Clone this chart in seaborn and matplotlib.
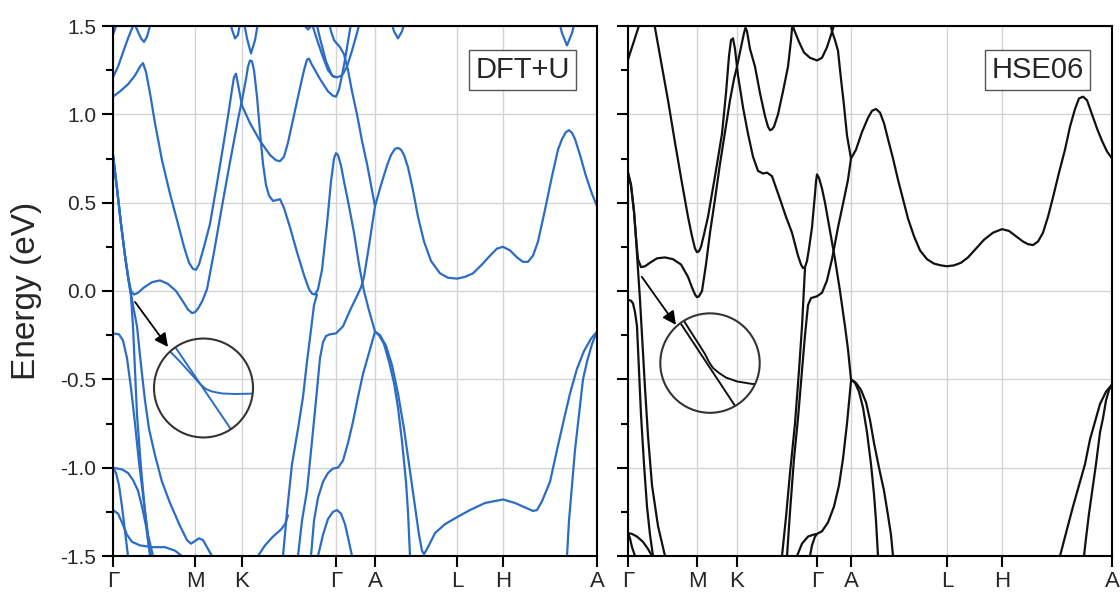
import numpy as np
import pandas as pd
import matplotlib
matplotlib.use("Agg")
import matplotlib.pyplot as plt
from matplotlib.patches import Ellipse
import seaborn as sns

# ---- k-path (arbitrary k units, Γ at 0) ----
klabels = ["Γ", "M", "K", "Γ", "A", "L", "H", "A"]
dft_kpath = [0.00, 0.82, 1.29, 2.23, 2.62, 3.44, 3.90, 4.84]
hse_kpath = [0.00, 0.69, 1.09, 1.89, 2.23, 3.19, 3.74, 4.84]

# ---- DFT+U bands, (k, E) ----
dft_upper = [
    [(0.00,1.10),(0.07,1.13),(0.15,1.17),(0.22,1.22),(0.27,1.27),(0.30,1.29),(0.33,1.24),(0.37,1.12),(0.42,0.95),(0.49,0.74),(0.57,0.55),(0.65,0.38),(0.71,0.25),(0.76,0.16),(0.80,0.125),(0.83,0.12),(0.86,0.15),(0.91,0.25),(0.97,0.38),(1.04,0.61),(1.09,0.78),(1.15,0.99),(1.19,1.14),(1.21,1.21),(1.23,1.23),(1.25,1.17),(1.29,1.05),(1.37,0.95),(1.47,0.85),(1.57,0.77),(1.63,0.74),(1.67,0.735),(1.71,0.76),(1.75,0.84),(1.80,0.97),(1.87,1.15),(1.91,1.25),(1.94,1.31),(1.96,1.315),(1.99,1.28),(2.07,1.20),(2.15,1.13),(2.20,1.105),(2.23,1.10),(2.26,1.14),(2.29,1.22),(2.32,1.31),(2.37,1.48),(2.39,1.55)],
    [(0.00,0.77),(0.04,0.58),(0.08,0.38),(0.12,0.20),(0.15,0.08),(0.18,0.00),(0.21,-0.02),(0.25,-0.01),(0.31,0.02),(0.39,0.05),(0.47,0.06),(0.55,0.04),(0.63,0.00),(0.70,-0.06),(0.75,-0.105),(0.79,-0.125),(0.82,-0.12),(0.85,-0.10),(0.89,-0.06),(0.94,0.01),(1.01,0.22),(1.09,0.48),(1.17,0.73),(1.25,0.97),(1.29,1.08),(1.33,1.20),(1.35,1.27),(1.37,1.305),(1.39,1.30),(1.41,1.25),(1.44,1.10),(1.47,0.90),(1.50,0.72),(1.53,0.60),(1.56,0.54),(1.60,0.51),(1.64,0.515),(1.67,0.52),(1.71,0.47),(1.77,0.36),(1.84,0.22),(1.91,0.09),(1.96,0.01),(1.99,-0.015),(2.02,-0.02),(2.05,0.01),(2.09,0.12),(2.14,0.38),(2.18,0.62),(2.21,0.75),(2.23,0.78),(2.25,0.77),(2.28,0.71),(2.31,0.62),(2.36,0.48),(2.41,0.33),(2.46,0.15),(2.51,0.00),(2.56,-0.11),(2.62,-0.23)],
    [(0.00,1.21),(0.05,1.27),(0.10,1.35),(0.15,1.43),(0.20,1.50),(0.23,1.55)],
    [(0.00,1.45),(0.03,1.50),(0.06,1.55)],
    [(0.19,1.55),(0.24,1.48),(0.28,1.43),(0.31,1.41),(0.34,1.44),(0.37,1.50),(0.39,1.55)],
    [(1.16,1.55),(1.19,1.48),(1.22,1.43),(1.25,1.45),(1.28,1.55)],
    [(1.30,1.55),(1.34,1.43),(1.38,1.345),(1.42,1.42),(1.46,1.55)],
    [(1.89,1.55),(1.92,1.50),(1.95,1.48),(1.98,1.50),(2.01,1.55)],
    [(1.97,1.55),(2.03,1.44),(2.09,1.34),(2.15,1.25),(2.20,1.215),(2.24,1.21),(2.29,1.22),(2.34,1.27),(2.39,1.36),(2.44,1.46),(2.48,1.55)],
    [(2.02,1.55),(2.07,1.43),(2.13,1.30),(2.19,1.22),(2.23,1.21)],
    [(2.15,1.55),(2.18,1.47),(2.21,1.42),(2.27,1.38),(2.31,1.34),(2.35,1.25),(2.39,1.13),(2.44,1.00),(2.49,0.85),(2.54,0.72),(2.58,0.60),(2.62,0.48)],
    [(2.62,0.48),(2.68,0.60),(2.74,0.71),(2.78,0.77),(2.82,0.805),(2.85,0.81),(2.88,0.80),(2.91,0.77),(2.95,0.70),(3.00,0.57),(3.05,0.42),(3.11,0.28),(3.18,0.17),(3.27,0.10),(3.35,0.075),(3.44,0.07),(3.52,0.08),(3.60,0.10),(3.69,0.15),(3.77,0.20),(3.84,0.24),(3.90,0.25),(3.97,0.23),(4.04,0.19),(4.10,0.165),(4.15,0.165),(4.20,0.20),(4.25,0.28),(4.32,0.46),(4.39,0.65),(4.45,0.80),(4.49,0.86),(4.53,0.90),(4.56,0.91),(4.59,0.895),(4.62,0.86),(4.67,0.77),(4.73,0.65),(4.79,0.55),(4.84,0.48)],
    [(2.77,1.55),(2.81,1.47),(2.85,1.43),(2.89,1.47),(2.93,1.55)],
    [(4.45,1.55),(4.49,1.46),(4.54,1.39),(4.59,1.46),(4.63,1.55)],
]
dft_lower = [
    [(0.00,0.77),(0.04,0.58),(0.08,0.38),(0.12,0.20),(0.15,0.08),(0.18,-0.03),(0.20,-0.20),(0.22,-0.45),(0.24,-0.70),(0.28,-1.00),(0.32,-1.25),(0.37,-1.50)],
    [(0.00,-0.24),(0.06,-0.245),(0.10,-0.28),(0.14,-0.38),(0.18,-0.55),(0.22,-0.75),(0.26,-0.97),(0.31,-1.20),(0.35,-1.38),(0.40,-1.50)],
    [(0.00,0.77),(0.04,0.58),(0.08,0.38),(0.12,0.20),(0.16,0.05),(0.20,-0.08),(0.24,-0.20),(0.28,-0.42),(0.32,-0.62),(0.36,-0.78),(0.42,-0.93),(0.49,-1.08),(0.57,-1.20),(0.67,-1.33),(0.74,-1.41),(0.78,-1.43),(0.82,-1.415),(0.86,-1.40),(0.90,-1.41),(0.94,-1.45),(0.99,-1.50)],
    [(0.00,-1.00),(0.09,-1.01),(0.15,-1.03),(0.20,-1.07),(0.25,-1.13),(0.29,-1.22),(0.33,-1.33),(0.36,-1.45),(0.38,-1.50)],
    [(0.00,-1.00),(0.03,-1.03),(0.06,-1.10),(0.09,-1.22),(0.12,-1.36),(0.15,-1.50)],
    [(0.00,-1.24),(0.05,-1.26),(0.09,-1.31),(0.14,-1.38),(0.19,-1.42),(0.27,-1.44),(0.39,-1.45),(0.52,-1.45),(0.62,-1.47),(0.69,-1.50)],
    [(1.85,-1.50),(1.89,-1.30),(1.94,-1.13),(1.99,-0.85),(2.04,-0.56),(2.07,-0.38),(2.10,-0.29),(2.13,-0.255),(2.17,-0.245),(2.23,-0.24),(2.30,-0.20),(2.37,-0.11),(2.43,-0.04),(2.48,0.02),(2.51,0.08),(2.55,0.22),(2.58,0.33),(2.62,0.48)],
    [(1.70,-1.50),(1.74,-1.25),(1.79,-0.98),(1.85,-0.78),(1.90,-0.60),(1.94,-0.40),(1.98,-0.22),(2.01,-0.08),(2.04,-0.02)],
    [(1.45,-1.50),(1.52,-1.44),(1.60,-1.39),(1.68,-1.35),(1.72,-1.32),(1.75,-1.27)],
    [(1.98,-1.50),(2.01,-1.30),(2.05,-1.17),(2.10,-1.08),(2.15,-1.03),(2.20,-1.005),(2.25,-1.00),(2.30,-0.96),(2.35,-0.86),(2.40,-0.74),(2.45,-0.60),(2.50,-0.47),(2.56,-0.35),(2.62,-0.23)],
    [(2.05,-1.50),(2.10,-1.38),(2.15,-1.29),(2.20,-1.25),(2.24,-1.24),(2.28,-1.26),(2.32,-1.32),(2.36,-1.42),(2.39,-1.50)],
    [(2.62,-0.23),(2.66,-0.25),(2.71,-0.30),(2.76,-0.40),(2.81,-0.52),(2.85,-0.66),(2.89,-0.85),(2.93,-1.08),(2.95,-1.25),(2.97,-1.50)],
    [(2.62,-0.23),(2.67,-0.25),(2.73,-0.31),(2.79,-0.42),(2.85,-0.58),(2.91,-0.78),(2.96,-0.98),(3.01,-1.18),(3.06,-1.38),(3.09,-1.47),(3.11,-1.49),(3.15,-1.45),(3.22,-1.37),(3.32,-1.32),(3.44,-1.28),(3.57,-1.24),(3.72,-1.20),(3.90,-1.18),(4.02,-1.20),(4.14,-1.23),(4.20,-1.245),(4.24,-1.24),(4.29,-1.19),(4.37,-1.08),(4.44,-0.90),(4.50,-0.75),(4.57,-0.58),(4.64,-0.44),(4.71,-0.34),(4.78,-0.27),(4.84,-0.23)],
    [(4.84,-0.23),(4.79,-0.30),(4.74,-0.40),(4.70,-0.50),(4.66,-0.70),(4.62,-0.90),(4.59,-1.10),(4.56,-1.30),(4.54,-1.50)],
]

# ---- HSE06 bands ----
hse_upper = [
    [(0.00,1.31),(0.04,1.38),(0.08,1.45),(0.12,1.52),(0.14,1.55)],
    [(0.00,0.67),(0.03,0.60),(0.06,0.45),(0.08,0.30),(0.10,0.18),(0.13,0.135),(0.17,0.14),(0.22,0.16),(0.29,0.185),(0.37,0.19),(0.45,0.18),(0.53,0.15),(0.60,0.08),(0.64,0.02),(0.67,-0.02),(0.69,-0.035),(0.71,-0.03),(0.74,0.00),(0.78,0.15),(0.82,0.33),(0.87,0.52),(0.92,0.72),(0.97,0.90),(1.02,1.08),(1.06,1.20),(1.09,1.27),(1.13,1.38),(1.16,1.46),(1.175,1.49),(1.19,1.47),(1.22,1.37),(1.27,1.27),(1.32,1.12),(1.37,0.99),(1.40,0.93),(1.42,0.91),(1.44,0.915),(1.46,0.93),(1.50,1.00),(1.55,1.13),(1.60,1.27),(1.63,1.42),(1.65,1.55)],
    [(0.25,1.55),(0.27,1.49),(0.33,1.30),(0.40,1.08),(0.47,0.84),(0.54,0.61),(0.60,0.42),(0.64,0.31),(0.67,0.24),(0.69,0.22),(0.71,0.225),(0.73,0.25),(0.76,0.32),(0.80,0.42),(0.87,0.65),(0.94,0.89),(0.98,1.12),(1.01,1.33),(1.03,1.42),(1.05,1.43),(1.07,1.37),(1.10,1.22),(1.15,1.04),(1.20,0.89),(1.25,0.76),(1.30,0.68),(1.35,0.665),(1.39,0.67),(1.44,0.65),(1.52,0.52),(1.58,0.42),(1.64,0.33),(1.70,0.20),(1.73,0.15),(1.75,0.13),(1.77,0.135),(1.79,0.17),(1.81,0.24),(1.84,0.36),(1.87,0.55),(1.88,0.62),(1.89,0.66),(1.91,0.64),(1.94,0.58),(1.97,0.50),(2.02,0.34),(2.07,0.18),(2.12,0.00),(2.17,-0.20),(2.20,-0.33),(2.23,-0.50)],
    [(1.62,1.55),(1.66,1.48),(1.71,1.41),(1.76,1.35),(1.82,1.32),(1.89,1.305),(1.94,1.32),(1.99,1.38),(2.03,1.45),(2.07,1.52),(2.09,1.55)],
    [(2.01,1.55),(2.04,1.47),(2.07,1.42),(2.10,1.36),(2.13,1.20),(2.16,1.05),(2.19,0.88),(2.23,0.75)],
    [(2.23,0.75),(2.28,0.80),(2.34,0.90),(2.40,0.98),(2.44,1.02),(2.48,1.03),(2.52,1.01),(2.56,0.95),(2.60,0.86),(2.65,0.75),(2.70,0.63),(2.75,0.52),(2.80,0.41),(2.86,0.31),(2.92,0.23),(2.99,0.18),(3.06,0.155),(3.13,0.145),(3.19,0.14),(3.26,0.145),(3.33,0.16),(3.40,0.19),(3.48,0.24),(3.56,0.29),(3.65,0.33),(3.74,0.35),(3.81,0.34),(3.88,0.31),(3.95,0.28),(4.00,0.265),(4.05,0.26),(4.10,0.28),(4.15,0.33),(4.20,0.42),(4.25,0.53),(4.31,0.67),(4.37,0.80),(4.42,0.93),(4.47,1.03),(4.51,1.09),(4.55,1.10),(4.59,1.08),(4.64,1.00),(4.69,0.92),(4.74,0.85),(4.79,0.79),(4.84,0.75)],
]
hse_lower = [
    [(0.00,0.67),(0.03,0.60),(0.06,0.45),(0.08,0.30),(0.10,0.12),(0.12,-0.05),(0.14,-0.25),(0.17,-0.55),(0.20,-0.82),(0.24,-1.10),(0.30,-1.33),(0.37,-1.50)],
    [(0.00,-0.05),(0.03,-0.055),(0.05,-0.07),(0.07,-0.12),(0.09,-0.20),(0.11,-0.45),(0.13,-0.70),(0.16,-0.98),(0.19,-1.22),(0.22,-1.38),(0.25,-1.50)],
    [(0.00,-1.37),(0.04,-1.375),(0.09,-1.39),(0.15,-1.42),(0.20,-1.46),(0.24,-1.50)],
    [(0.00,-1.37),(0.02,-1.40),(0.04,-1.45),(0.07,-1.50)],
    [(1.59,-1.50),(1.62,-1.25),(1.66,-0.95),(1.70,-0.72),(1.74,-0.45),(1.77,-0.25),(1.80,-0.08),(1.83,-0.04),(1.89,-0.03),(1.94,-0.01),(1.99,0.06),(2.04,0.18),(2.10,0.36),(2.16,0.52),(2.20,0.63),(2.23,0.75)],
    [(1.54,-1.50),(1.58,-1.28),(1.62,-1.03),(1.67,-0.75),(1.71,-0.45),(1.74,-0.20),(1.76,0.02),(1.77,0.13)],
    [(1.69,-1.50),(1.74,-1.43),(1.80,-1.39),(1.85,-1.38),(1.89,-1.375)],
    [(1.82,-1.50),(1.84,-1.44),(1.87,-1.39),(1.89,-1.375)],
    [(1.89,-1.375),(1.94,-1.36),(2.00,-1.31),(2.06,-1.22),(2.11,-1.10),(2.15,-0.95),(2.19,-0.75),(2.23,-0.51)],
    [(2.23,-0.50),(2.27,-0.52),(2.31,-0.57),(2.35,-0.66),(2.39,-0.80),(2.43,-0.98),(2.46,-1.15),(2.48,-1.30),(2.50,-1.50)],
    [(2.23,-0.50),(2.28,-0.52),(2.33,-0.56),(2.38,-0.63),(2.42,-0.73),(2.46,-0.86),(2.51,-1.00),(2.56,-1.13),(2.60,-1.27),(2.63,-1.38),(2.65,-1.50)],
    [(4.84,-0.53),(4.78,-0.57),(4.72,-0.64),(4.67,-0.74),(4.62,-0.84),(4.57,-0.98),(4.51,-1.10),(4.45,-1.22),(4.38,-1.37),(4.32,-1.50)],
    [(4.84,-0.53),(4.81,-0.56),(4.78,-0.62),(4.75,-0.72),(4.72,-0.80),(4.68,-0.98),(4.64,-1.14),(4.61,-1.26),(4.58,-1.40),(4.56,-1.50)],
]

# ---- magnified crossings (inside the circles) ----
dft_zoom = [
    [(0.47,-0.19),(1.32,-0.90)],
    [(0.47,-0.283),(0.55,-0.33),(0.67,-0.40),(0.79,-0.475),(0.87,-0.526),(0.93,-0.555),(0.99,-0.569),(1.09,-0.58),(1.22,-0.583),(1.47,-0.58)],
]
hse_zoom = [
    [(0.372,-0.051),(1.203,-0.764)],
    [(0.43,-0.05),(0.53,-0.142),(0.61,-0.215),(0.70,-0.294),(0.77,-0.357),(0.81,-0.402),(0.85,-0.436),(0.91,-0.464),(0.98,-0.49),(1.09,-0.512),(1.24,-0.526),(1.47,-0.532)],
]
# circle centre / size (k, E), arrow tail -> head
dft_circle = ((0.905, -0.549), 0.99, 0.56)
hse_circle = ((0.82, -0.408), 0.994, 0.563)
dft_arrow = ((0.22, -0.062), (0.55, -0.317))
hse_arrow = ((0.137, 0.081), (0.48, -0.192))

BLUE = "#2b6cc4"
BLACK = "#111111"

sns.set_theme(style="ticks")
plt.rcParams["font.family"] = ["Liberation Sans", "DejaVu Sans"]
plt.rcParams["axes.unicode_minus"] = False
plt.rcParams["lines.solid_joinstyle"] = "round"


def to_frame(bands):
    rows = []
    for i, b in enumerate(bands):
        for k, e in b:
            rows.append((i, k, e))
    return pd.DataFrame(rows, columns=["band", "k", "E"])


def draw_panel(ax, bands, kpath, color, label, zoom, circle, arrow, show_y):
    df = to_frame(bands)
    sns.lineplot(data=df, x="k", y="E", units="band", estimator=None,
                 sort=False, color=color, lw=1.6, ax=ax, legend=False)

    ax.set_xlim(kpath[0], kpath[-1])
    ax.set_ylim(-1.5, 1.5)
    ax.set_xticks(kpath)
    ax.set_xticklabels(klabels)
    ax.set_yticks(np.arange(-1.5, 1.51, 0.5))
    ax.set_yticks(np.arange(-1.5, 1.51, 0.25), minor=True)
    ax.grid(True, which="major", color="#d4d4d4", lw=1.0)
    ax.set_axisbelow(True)
    ax.set_xlabel("")
    ax.set_ylabel("")
    for s in ax.spines.values():
        s.set_visible(True)
        s.set_color("black")
        s.set_linewidth(1.5)
    ax.tick_params(axis="both", which="major", direction="out", length=8,
                   width=1.5, color="black")
    ax.tick_params(axis="y", which="minor", direction="out", length=5,
                   width=1.5, color="black")
    ax.tick_params(axis="x", labelsize=16, pad=3)
    ax.tick_params(axis="y", labelsize=15, pad=4, labelleft=show_y)

    # magnified view of the band crossing
    (cx, cy), w, h = circle
    ell = Ellipse((cx, cy), w, h, fill=False, ec="#333333", lw=1.5, zorder=5)
    ax.add_patch(ell)
    for seg in zoom:
        ks, es = zip(*seg)
        ln, = ax.plot(ks, es, color=color, lw=1.4, zorder=4)
        ln.set_clip_path(ell)
    ax.annotate("", xy=arrow[1], xytext=arrow[0],
                arrowprops=dict(arrowstyle="-|>", color="black", lw=1.3,
                                mutation_scale=20, shrinkA=0, shrinkB=0))

    ax.text(0.846, 0.917, label, transform=ax.transAxes, fontsize=21,
            ha="center", va="center", zorder=6,
            bbox=dict(boxstyle="square,pad=0.22", fc="white", ec="#555555", lw=1.0))


fig = plt.figure(figsize=(11.2, 5.96), dpi=100)
ax1 = fig.add_axes([113 / 1120, 40 / 596, 484 / 1120, 530 / 596])
ax2 = fig.add_axes([628 / 1120, 40 / 596, 484 / 1120, 530 / 596])

draw_panel(ax1, dft_upper + dft_lower, dft_kpath, BLUE, "DFT+U",
           dft_zoom, dft_circle, dft_arrow, True)
draw_panel(ax2, hse_upper + hse_lower, hse_kpath, BLACK, "HSE06",
           hse_zoom, hse_circle, hse_arrow, False)

ax1.set_ylabel("Energy (eV)", fontsize=24)
ax1.yaxis.set_label_coords(-(113 - 42) / 484, 0.5)

fig.savefig("out.png", dpi=100)
